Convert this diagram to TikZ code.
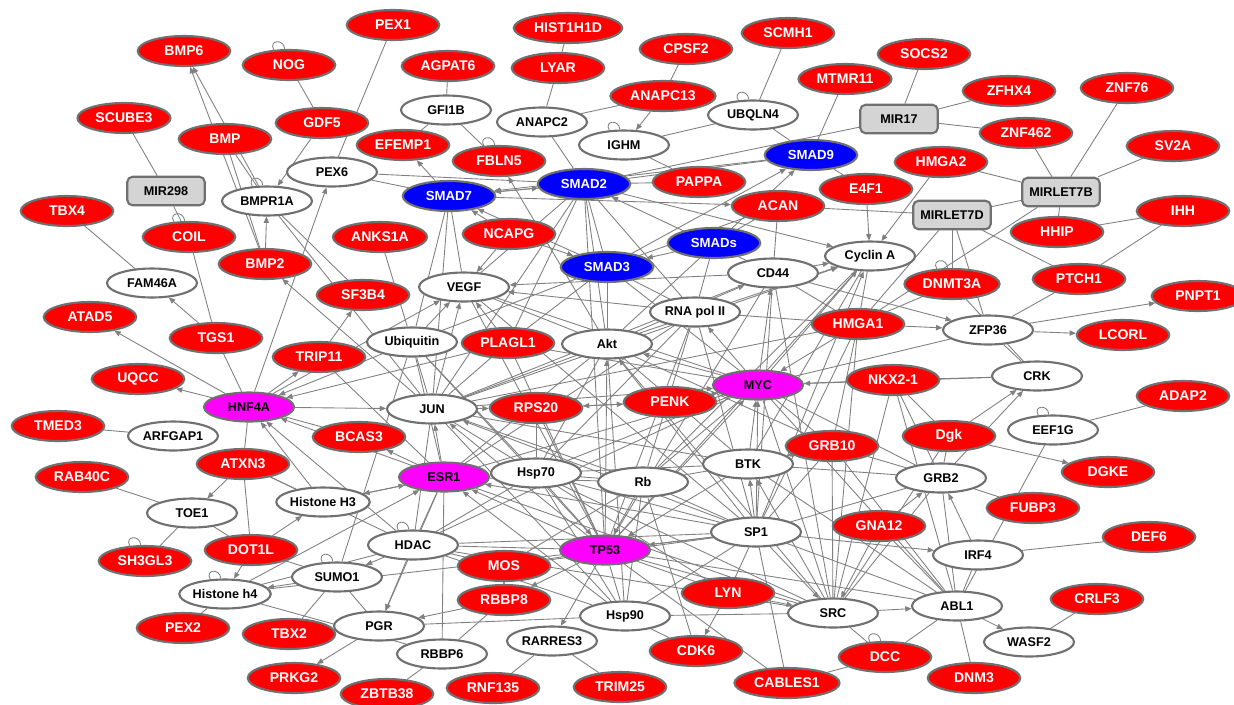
\documentclass[tikz,border=0pt]{standalone}
\usepackage{fontspec}
\setmainfont{Liberation Sans}
\usepackage{tikz}
\usetikzlibrary{arrows.meta,shapes.geometric,backgrounds}
\definecolor{genered}{RGB}{255,0,0}
\definecolor{smadblue}{RGB}{0,0,255}
\definecolor{hubpink}{RGB}{255,0,255}
\definecolor{mirgray}{RGB}{212,212,212}
\definecolor{rim}{RGB}{112,112,112}
\definecolor{wire}{RGB}{128,128,128}
\tikzstyle{gene} = [ellipse, fill=genered, draw=rim, line width=1.2pt, text=white,
  font=\bfseries\fontsize{8}{9.6}\selectfont, minimum width=1.85cm, minimum height=0.6cm,
  inner xsep=2.5pt, inner ysep=0pt]
\tikzstyle{smad} = [gene, fill=smadblue, font=\bfseries\fontsize{7.5}{9}\selectfont]
\tikzstyle{prot} = [ellipse, fill=white, draw=rim, line width=1.2pt, text=black,
  font=\bfseries\fontsize{7.2}{8.6}\selectfont, minimum width=1.8cm, minimum height=0.58cm,
  inner xsep=0pt, inner ysep=0pt]
\tikzstyle{hub}  = [prot, fill=hubpink]
\tikzstyle{mir}  = [rectangle, rounded corners=3pt, fill=mirgray, draw=rim, line width=1.2pt,
  font=\bfseries\fontsize{7.2}{8.6}\selectfont, minimum width=1.55cm, minimum height=0.57cm, inner sep=0pt]
\tikzstyle{link} = [draw=wire, line width=0.5pt]
\tikzstyle{act}  = [-{Triangle[length=3.6pt,width=3pt]}]

\begin{document}
\begin{tikzpicture}[x=0.02cm,y=-0.02cm]
  \useasboundingbox (0,0) rectangle (1234,704);
  % top band
  \node[gene] (PEX1)     at (393,25)  {PEX1};
  \node[gene] (BMP6)     at (184,51)  {BMP6};
  \node[gene] (NOG)      at (289,65)  {NOG};
  \node[gene] (HIST1H1D) at (568,28)  {HIST1H1D};
  \node[gene] (LYAR)     at (558,68)  {LYAR};
  \node[gene] (AGPAT6)   at (448,66)  {AGPAT6};
  \node[gene] (CPSF2)    at (686,49)  {CPSF2};
  \node[gene] (SCMH1)    at (788,33)  {SCMH1};
  \node[gene] (ANAPC13)  at (663,96)  {ANAPC13};
  \node[gene] (MTMR11)   at (845,79)  {MTMR11};
  \node[gene] (SOCS2)    at (924,54)  {SOCS2};
  \node[gene] (ZFHX4)    at (1009,91) {ZFHX4};
  \node[gene] (ZNF76)    at (1127,88) {ZNF76};
  \node[gene] (ZNF462)   at (1026,133){ZNF462};
  \node[gene] (SV2A)     at (1173,146){SV2A};
  \node[gene] (SCUBE3)   at (124,118) {SCUBE3};
  \node[gene] (BMP)      at (225,139) {BMP};
  \node[gene] (GDF5)     at (322,123) {GDF5};
  \node[gene] (EFEMP1)   at (403,145) {EFEMP1};
  \node[gene] (FBLN5)    at (499,161) {FBLN5};
  \node[gene] (PAPPA)    at (699,182) {PAPPA};
  \node[gene] (HMGA2)    at (941,162) {HMGA2};
  \node[gene] (E4F1)     at (866,189) {E4F1};
  \node[gene] (ACAN)     at (778,206) {ACAN};
  \node[gene] (IHH)      at (1183,211){IHH};
  \node[gene] (HHIP)     at (1057,232){HHIP};
  \node[gene] (TBX4)     at (67,211)  {TBX4};
  \node[gene] (COIL)     at (189,237) {COIL};
  \node[gene] (ANKS1A)   at (380,237) {ANKS1A};
  \node[gene] (NCAPG)    at (509,234) {NCAPG};
  \node[gene] (BMP2)     at (265,264) {BMP2};
  \node[gene] (SF3B4)    at (363,295) {SF3B4};
  \node[gene] (PTCH1)    at (1079,279){PTCH1};
  \node[gene] (PNPT1)    at (1198,296){PNPT1};
  \node[gene] (DNMT3A)   at (952,284) {DNMT3A};
  % middle band
  \node[gene] (ATAD5)    at (90,317)  {ATAD5};
  \node[gene] (TGS1)     at (216,338) {TGS1};
  \node[gene] (TRIP11)   at (319,357) {TRIP11};
  \node[gene] (PLAGL1)   at (508,343) {PLAGL1};
  \node[gene] (HMGA1)    at (858,324) {HMGA1};
  \node[gene] (LCORL)    at (1123,335){LCORL};
  \node[gene] (UQCC)     at (138,379) {UQCC};
  \node[gene] (NKX21)    at (893,380) {NKX2-1};
  \node[gene] (RPS20)    at (536,408) {RPS20};
  \node[gene] (PENK)     at (670,402) {PENK};
  \node[gene] (ADAP2)    at (1183,396){ADAP2};
  \node[gene] (TMED3)    at (58,426)  {TMED3};
  \node[gene] (BCAS3)    at (359,437) {BCAS3};
  \node[gene] (GRB10)    at (832,446) {GRB10};
  \node[gene] (Dgk)      at (949,436) {Dgk};
  \node[gene] (DGKE)     at (1108,472){DGKE};
  \node[gene] (ATXN3)    at (243,464) {ATXN3};
  \node[gene] (RAB40C)   at (82,477)  {RAB40C};
  \node[gene] (FUBP3)    at (1033,508){FUBP3};
  \node[gene] (GNA12)    at (879,526) {GNA12};
  \node[gene] (DEF6)     at (1149,537){DEF6};
  % bottom band
  \node[gene] (DOT1L)    at (251,550) {DOT1L};
  \node[gene] (SH3GL3)   at (145,561) {SH3GL3};
  \node[gene] (MOS)      at (504,566) {MOS};
  \node[gene] (RBBP8)    at (504,600) {RBBP8};
  \node[gene] (LYN)      at (728,593) {LYN};
  \node[gene] (CRLF3)    at (1097,599){CRLF3};
  \node[gene] (PEX2)     at (183,628) {PEX2};
  \node[gene] (TBX2)     at (289,634) {TBX2};
  \node[gene] (CDK6)     at (696,651) {CDK6};
  \node[gene] (DCC)      at (885,657) {DCC};
  \node[gene] (DNM3)     at (974,678) {DNM3};
  \node[gene] (PRKG2)    at (294,678) {PRKG2};
  \node[gene] (ZBTB38)   at (387,694) {ZBTB38};
  \node[gene] (RNF135)   at (493,688) {RNF135};
  \node[gene] (TRIM25)   at (620,687) {TRIM25};
  \node[gene] (CABLES1)  at (787,683) {CABLES1};
  % smads
  \node[smad] (SMAD7)    at (449,196) {SMAD7};
  \node[smad] (SMAD2)    at (584,184) {SMAD2};
  \node[smad] (SMAD9)    at (811,155) {SMAD9};
  \node[smad] (SMADs)    at (714,243) {SMADs};
  \node[smad] (SMAD3)    at (607,267) {SMAD3};
  % hubs
  \node[hub]  (HNF4A)    at (249,407) {HNF4A};
  \node[hub]  (MYC)      at (758,385) {MYC};
  \node[hub]  (ESR1)     at (444,477) {ESR1};
  \node[hub]  (TP53)     at (605,550) {TP53};
  % other proteins
  \node[prot] (GFI1B)    at (446,110) {GFI1B};
  \node[prot] (ANAPC2)   at (542,122) {ANAPC2};
  \node[prot] (IGHM)     at (624,145) {IGHM};
  \node[prot] (UBQLN4)   at (753,115) {UBQLN4};
  \node[prot] (PEX6)     at (332,172) {PEX6};
  \node[prot] (BMPR1A)   at (267,201) {BMPR1A};
  \node[prot] (FAM46A)   at (152,283) {FAM46A};
  \node[prot] (VEGF)     at (464,287) {VEGF};
  \node[prot] (CD44)     at (773,273) {CD44};
  \node[prot] (CyclinA)  at (870,256) {Cyclin A};
  \node[prot] (RNApolII) at (695,312) {RNA pol II};
  \node[prot] (ZFP36)    at (988,330) {ZFP36};
  \node[prot] (Ubiquitin)at (412,342) {Ubiquitin};
  \node[prot] (Akt)      at (607,344) {Akt};
  \node[prot] (CRK)      at (1037,376){CRK};
  \node[prot] (JUN)      at (432,409) {JUN};
  \node[prot] (ARFGAP1)  at (173,436) {ARFGAP1};
  \node[prot] (EEF1G)    at (1053,430){EEF1G};
  \node[prot] (BTK)      at (748,464) {BTK};
  \node[prot] (Hsp70)    at (536,473) {Hsp70};
  \node[prot] (Rb)       at (643,482) {Rb};
  \node[prot] (GRB2)     at (941,478) {GRB2};
  \node[prot] (HistoneH3)at (323,502) {Histone H3};
  \node[prot] (TOE1)     at (192,513) {TOE1};
  \node[prot] (HDAC)     at (413,545) {HDAC};
  \node[prot] (SP1)      at (756,532) {SP1};
  \node[prot] (IRF4)     at (978,555) {IRF4};
  \node[prot] (SUMO1)    at (337,577) {SUMO1};
  \node[prot] (Histoneh4)at (225,594) {Histone h4};
  \node[prot] (Hsp90)    at (625,616) {Hsp90};
  \node[prot] (SRC)      at (833,613) {SRC};
  \node[prot] (ABL1)     at (957,606) {ABL1};
  \node[prot] (WASF2)    at (1029,642){WASF2};
  \node[prot] (PGR)      at (379,626) {PGR};
  \node[prot] (RARRES3)  at (552,641) {RARRES3};
  \node[prot] (RBBP6)    at (442,654) {RBBP6};
  % micro RNAs
  \node[mir]  (MIR298)   at (166,191) {MIR298};
  \node[mir]  (MIR17)    at (899,119) {MIR17};
  \node[mir]  (MIRLET7B) at (1061,192){MIRLET7B};
  \node[mir]  (MIRLET7D) at (952,215) {MIRLET7D};

  \begin{scope}[on background layer, every edge/.style={link}]
    \path (BMP2) edge[act] (BMP6) edge[act] (BMPR1A) edge (BMP);
    \path (BMPR1A) edge[act] (BMP6) edge (BMP) edge (SF3B4) edge (JUN);
    \path (GDF5) edge[act] (BMPR1A) edge (NOG);
    \path (PEX6) edge (PEX1) edge (SMAD7) edge (SMAD2);
    \path (MIR298) edge (SCUBE3) edge (COIL);
    \path (FAM46A) edge (TBX4);
    \path (TGS1) edge[act] (FAM46A) edge (COIL);
    \path (HNF4A) edge[act] (ATAD5) edge[act] (UQCC) edge[act] (TRIP11) edge[act] (JUN) edge[act] (PEX6)
          edge (TGS1) edge (BCAS3) edge (ATXN3) edge[act] (VEGF);
    \path (TRIP11) edge[act] (SF3B4) edge (ESR1);
    \path (Ubiquitin) edge[act] (HNF4A) edge (ANKS1A) edge[act] (VEGF) edge (TP53) edge (JUN) edge (ESR1)
          edge (Hsp70) edge (SMAD3) edge (SUMO1);
    \path (PLAGL1) edge[act] (HNF4A) edge[act] (VEGF) edge (TP53) edge (JUN) edge (SMAD3) edge (MYC);
    \path (ESR1) edge[act] (HNF4A) edge[act] (BCAS3) edge[act] (HistoneH3) edge[act] (JUN) edge[act] (PGR)
          edge (Rb) edge (HDAC) edge (BTK) edge (SRC) edge (RBBP6);
    \path (HistoneH3) edge[act] (HNF4A) edge[act] (ESR1) edge (ATXN3) edge (HDAC);
    \path (JUN) edge[act] (BMP2) edge[act] (RPS20) edge[act] (VEGF) edge[act] (MYC) edge[act] (CyclinA)
          edge (Akt) edge (Hsp70) edge (Rb) edge (BTK) edge (HDAC) edge (Hsp90) edge (SMAD2) edge (SMAD7)
          edge (CD44) edge (HMGA1);
    \path (ARFGAP1) edge (TMED3);
    \path (TOE1) edge (RAB40C) edge (SH3GL3) edge (DOT1L);
    \path (ATXN3) edge[act] (TOE1) edge (DOT1L) edge (HistoneH3);
    \path (DOT1L) edge[act] (HistoneH3) edge[act] (Histoneh4) edge (SUMO1);
    \path (SUMO1) edge[act] (Histoneh4) edge (TBX2) edge (PGR);
    \path (Histoneh4) edge (PEX2) edge[act] (ESR1) edge (SP1) edge (RBBP6);
    \path (HDAC) edge[act] (SUMO1) edge[act] (PGR) edge[act] (HNF4A) edge (Histoneh4) edge (SRC) edge (Hsp90)
          edge (MOS) edge (TP53) edge (Hsp70);
    \path (PGR) edge[act] (PRKG2) edge (Hsp90);
    \path (RBBP8) edge[act] (PGR) edge[act] (MOS) edge (RBBP6);
    \path (MOS) edge[act] (RBBP8) edge (SP1);
    \path (RBBP6) edge (ZBTB38);
    \path (RARRES3) edge (RNF135) edge (TRIM25);
    \path (TP53) edge[act] (RARRES3) edge[act] (RBBP8) edge[act] (ESR1) edge[act] (JUN) edge[act] (MYC)
          edge[act] (Akt) edge (LYN) edge (SRC) edge (ABL1) edge (MOS) edge (Hsp90) edge (CABLES1)
          edge (RPS20) edge (CD44) edge (CyclinA) edge (RNApolII) edge (VEGF) edge (SMAD2);
    \path (Hsp90) edge (CDK6) edge (SRC) edge (SP1) edge (Hsp70) edge[act] (ESR1) edge (Akt) edge (Rb);
    \path (LYN) edge[act] (CDK6) edge[act] (SRC) edge (SP1) edge (Hsp70);
    \path (DCC) edge (SRC) edge (ABL1) edge (CABLES1);
    \path (CABLES1) edge (SP1);
    \path (ABL1) edge[act] (WASF2) edge (DNM3) edge (IRF4) edge (GRB2) edge (EEF1G) edge (NKX21)
          edge (GRB10) edge (GNA12) edge (BTK) edge (SP1) edge (MYC);
    \path (WASF2) edge (CRLF3);
    \path (IRF4) edge (DEF6) edge[act] (GRB2);
    \path (GNA12) edge[act] (GRB2) edge[act] (SRC);
    \path (SRC) edge[act] (ABL1) edge[act] (BTK) edge (GRB2) edge (CD44) edge (HMGA1) edge (GRB10)
          edge (NKX21) edge (Dgk) edge (MYC) edge (Hsp70) edge (Akt);
    \path (SP1) edge[act] (IRF4) edge[act] (BTK) edge[act] (SRC) edge[act] (TP53) edge[act] (ESR1)
          edge[act] (JUN) edge[act] (MYC) edge[act] (Akt) edge[act] (CyclinA) edge (HDAC) edge (GRB2)
          edge (Rb) edge (Hsp70) edge (GRB10) edge (VEGF) edge (CD44) edge (HMGA1) edge (RNApolII);
    \path (EEF1G) edge (ADAP2);
    \path (Dgk) edge[act] (DGKE) edge[act] (CRK) edge (GRB2) edge (NKX21);
    \path (GRB2) edge[act] (CRK) edge (FUBP3) edge (NKX21) edge (GRB10) edge (BTK) edge (MYC);
    \path (CRK) edge (NKX21) edge (ZFP36) edge[act] (MYC) edge (DNMT3A);
    \path (ZFP36) edge[act] (LCORL) edge[act] (PNPT1) edge (PTCH1);
    \path (HMGA1) edge[act] (ZFP36) edge[act] (MYC) edge (CyclinA) edge (DNMT3A) edge (CD44) edge (GRB10);
    \path (CD44) edge[act] (ZFP36) edge[act] (CyclinA) edge[act] (VEGF) edge[act] (SMAD2) edge (ACAN);
    \path (PTCH1) edge (IHH);
    \path (HHIP) edge (IHH);
    \path (MIRLET7B) edge (HHIP) edge (ZNF462) edge (ZNF76) edge (SV2A) edge (HMGA2) edge (MIRLET7D)
          edge (HMGA1);
    \path (MIRLET7D) edge (PTCH1) edge (ACAN) edge (DNMT3A) edge (HMGA1) edge (ZFP36);
    \path (MIR17) edge (SOCS2) edge (ZFHX4) edge (ZNF462) edge (SMAD2);
    \path (SMAD9) edge (MTMR11) edge (UBQLN4) edge (SMAD2) edge[act] (SMAD7) edge (E4F1);
    \path (UBQLN4) edge (SCMH1) edge (IGHM);
    \path (ANAPC13) edge (CPSF2) edge[act] (IGHM) edge (ANAPC2);
    \path (LYAR) edge (HIST1H1D) edge (ANAPC2);
    \path (ANAPC2) edge (SMAD2);
    \path (GFI1B) edge (AGPAT6) edge (FBLN5) edge (EFEMP1);
    \path (SMAD7) edge[act] (EFEMP1) edge[act] (SMAD2) edge[act] (ACAN) edge (VEGF) edge (Ubiquitin);
    \path (IGHM) edge (PAPPA);
    \path (SMAD2) edge[act] (SMAD7) edge[act] (CyclinA) edge (PAPPA) edge (SMAD3) edge (Akt)
          edge (RNApolII) edge (VEGF) edge (PLAGL1);
    \path (SMAD3) edge[act] (SMAD7) edge[act] (SMAD9) edge (ACAN) edge (Akt) edge (MYC) edge (RNApolII);
    \path (SMADs) edge[act] (SMAD3) edge (RNApolII) edge (ACAN);
    \path (NCAPG) edge[act] (VEGF) edge[act] (SMAD7) edge[act] (SMAD3);
    \path (Akt) edge[act] (FBLN5) edge[act] (CD44) edge[act] (CyclinA) edge[act] (SMAD9) edge (ESR1)
          edge (Hsp70) edge (BTK) edge (GRB10) edge (VEGF);
    \path (E4F1) edge[act] (CyclinA);
    \path (HMGA2) edge[act] (CyclinA);
    \path (MYC) edge[act] (CD44) edge[act] (CyclinA) edge[act] (RNApolII) edge[act] (Akt) edge (ESR1)
          edge (HDAC) edge (Hsp70) edge (Rb) edge (NKX21) edge (GRB10) edge (ZFP36) edge (VEGF);
    \path (RNApolII) edge[act] (VEGF) edge (Rb) edge (ESR1) edge (HMGA1) edge (Hsp70);
    \path (CyclinA) edge (Rb) edge (BTK);
    \path (PENK) edge[act] (MYC) edge[act] (RPS20);
    \path (RPS20) edge[act] (PENK) edge (Hsp70);
    \path (BTK) edge[act] (MYC) edge[act] (TP53) edge (Rb);
    \path (Hsp70) edge[act] (TP53) edge[act] (ESR1) edge (Rb);
    \path (Rb) edge[act] (TP53) edge (CDK6) edge (MOS);
    \path (GRB10) edge[act] (BTK);
    % self loops
    \foreach \n in {NOG,BMPR1A,FBLN5,IGHM,UBQLN4,COIL,SH3GL3,Histoneh4,SUMO1,HDAC,EEF1G,DCC,DNMT3A}
      \draw[link] (\n.105) .. controls +(95:0.22cm) and +(120:0.22cm) .. (\n.135);
  \end{scope}
\end{tikzpicture}
\end{document}
